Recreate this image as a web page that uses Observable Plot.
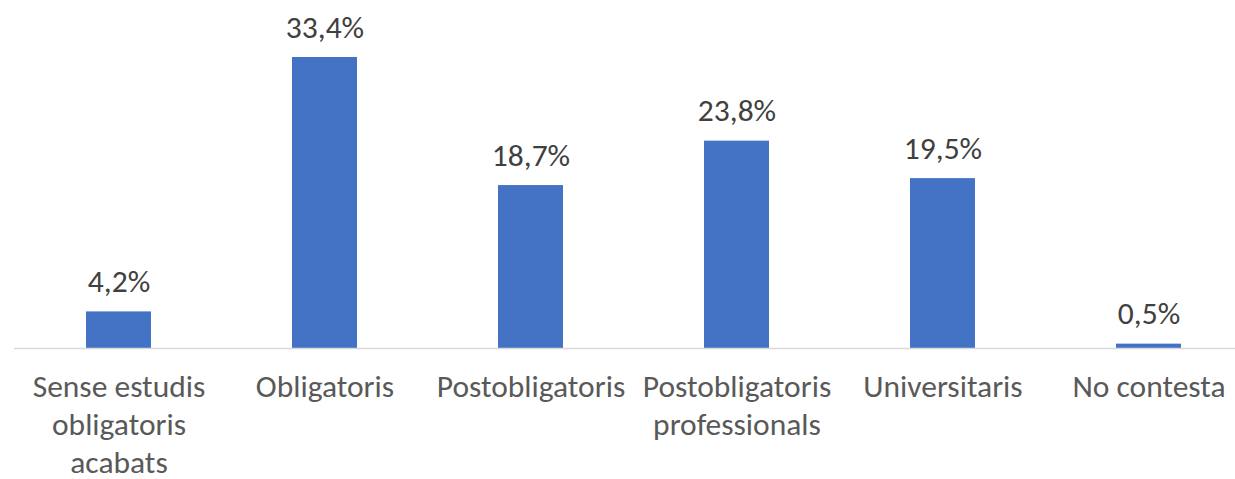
<!DOCTYPE html>
<html>
<head>
<meta charset="utf-8">
<script src="https://cdn.jsdelivr.net/npm/d3@7"></script>
<script src="https://cdn.jsdelivr.net/npm/@observablehq/plot@0.6"></script>
<style>
  html, body { margin: 0; padding: 0; background: #fff; overflow: hidden; }
  #chart svg { display: block; }
</style>
</head>
<body>
<div id="chart"></div>
<script>
const categories = [
  "Sense estudis\nobligatoris\nacabats",
  "Obligatoris",
  "Postobligatoris",
  "Postobligatoris\nprofessionals",
  "Universitaris",
  "No contesta"
];
const values = [4.2, 33.4, 18.7, 23.8, 19.5, 0.5];
const valueLabels = ["4,2%", "33,4%", "18,7%", "23,8%", "19,5%", "0,5%"];

const data = categories.map((c, i) => ({cat: c, value: values[i], label: valueLabels[i]}));
const FONT = "Carlito, Calibri, Lato, sans-serif";

const chart = Plot.plot({
  width: 1235,
  height: 479,
  marginTop: 57,
  marginBottom: 131,
  marginLeft: 14,
  marginRight: 0,
  style: {fontFamily: FONT, background: "#fff"},
  x: {domain: categories, range: [14.3, 1252.7], paddingInner: 0.685, paddingOuter: 0.3425, align: 0.5},
  y: {domain: [0, d3.max(values)], axis: null},
  marks: [
    Plot.barY(data, {x: "cat", y: "value", fill: "#4472C4"}),
    Plot.ruleY([0], {stroke: "#D9D9D9", strokeWidth: 1.5}),
    Plot.text(data, {x: "cat", y: "value", text: "label", dy: -30, fontSize: 31.5, fill: "#404040", fontFamily: FONT}),
    Plot.axisX({tickSize: 0, tickPadding: 22, fontSize: 31.5, lineHeight: 1.2, fill: "#595959", fontFamily: FONT, label: null, textOverflow: null})
  ]
});
document.getElementById("chart").appendChild(chart);
</script>
</body>
</html>
